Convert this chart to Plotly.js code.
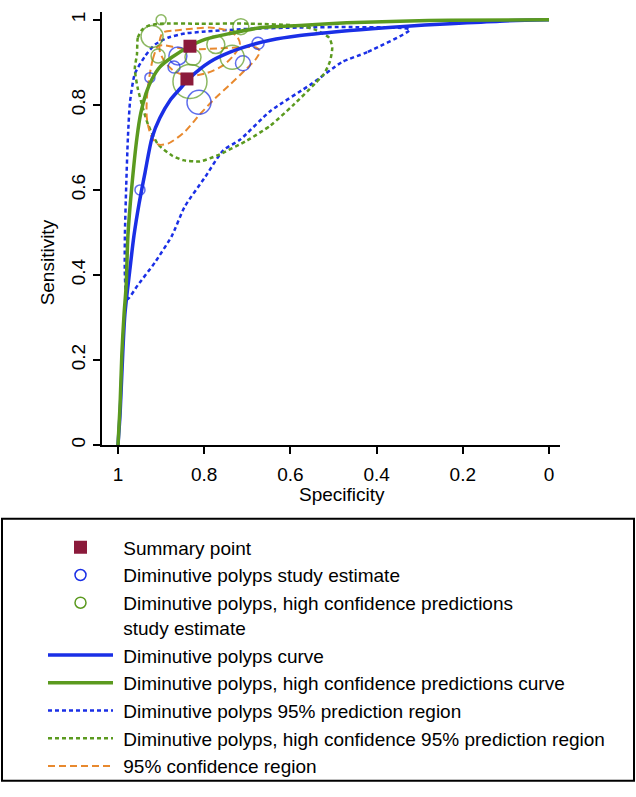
<!DOCTYPE html>
<html>
<head>
<meta charset="utf-8">
<script src="https://cdn.plot.ly/plotly-3.0.1.min.js"></script>
<style>
  html, body { margin: 0; padding: 0; background: #ffffff; }
  #chart { width: 636px; height: 797px; }
</style>
</head>
<body>
<div id="chart"></div>
<script>
// ---------- data (specificity, sensitivity) ----------
const summarySpec = [0.833, 0.840];
const summarySens = [0.938, 0.861];

const blueStudySpec = [0.926, 0.870, 0.861, 0.812, 0.675, 0.710, 0.949];
const blueStudySens = [0.864, 0.889, 0.915, 0.806, 0.945, 0.898, 0.600];
const blueStudySize = [10, 12, 18, 24, 12, 15, 10];

const greenStudySpec = [0.900, 0.921, 0.907, 0.826, 0.833, 0.773, 0.735, 0.715];
const greenStudySens = [1.000, 0.961, 0.915, 0.912, 0.855, 0.942, 0.912, 0.984];
const greenStudySize = [10, 22, 14, 16, 34, 18, 24, 16];

const blueCurveSpec = [1, 0.995, 0.991, 0.984, 0.972, 0.963, 0.951, 0.937, 0.921, 0.903, 0.879, 0.856, 0.833, 0.787, 0.740, 0.694, 0.647, 0.578, 0.462, 0.346, 0.230, 0.114, 0];
const blueCurveSens = [0, 0.076, 0.169, 0.307, 0.416, 0.492, 0.568, 0.642, 0.723, 0.769, 0.811, 0.838, 0.864, 0.901, 0.924, 0.940, 0.952, 0.963, 0.975, 0.984, 0.991, 0.997, 1];

const greenCurveSpec = [1, 0.995, 0.991, 0.986, 0.981, 0.977, 0.968, 0.956, 0.947, 0.935, 0.921, 0.903, 0.875, 0.833, 0.798, 0.740, 0.666, 0.578, 0.469, 0.346, 0.230, 0];
const greenCurveSens = [0, 0.099, 0.215, 0.307, 0.376, 0.492, 0.607, 0.723, 0.781, 0.827, 0.861, 0.889, 0.912, 0.938, 0.954, 0.968, 0.982, 0.987, 0.993, 0.997, 0.999, 1];

const bluePredSpec = [0.323, 0.422, 0.480, 0.550, 0.647, 0.717, 0.756, 0.798, 0.845, 0.875, 0.914, 0.954, 0.979, 0.984, 0.984, 0.981, 0.977, 0.972, 0.961, 0.937, 0.914, 0.884, 0.845, 0.805, 0.694, 0.578, 0.462, 0.323];
const bluePredSens = [0.977, 0.924, 0.901, 0.850, 0.785, 0.718, 0.693, 0.630, 0.561, 0.492, 0.430, 0.376, 0.342, 0.400, 0.492, 0.607, 0.723, 0.808, 0.873, 0.915, 0.942, 0.958, 0.968, 0.972, 0.979, 0.982, 0.983, 0.977];

const greenPredSpec = [0.944, 0.954, 0.956, 0.961, 0.954, 0.942, 0.930, 0.907, 0.875, 0.849, 0.810, 0.770, 0.701, 0.647, 0.594, 0.543, 0.522, 0.508, 0.503, 0.510, 0.543, 0.578, 0.694, 0.810, 0.903, 0.930, 0.944];
const greenPredSens = [0.977, 0.958, 0.919, 0.885, 0.838, 0.792, 0.753, 0.707, 0.681, 0.670, 0.667, 0.681, 0.716, 0.751, 0.799, 0.850, 0.873, 0.903, 0.935, 0.958, 0.977, 0.986, 0.991, 0.991, 0.991, 0.986, 0.977];

const confASpec = [0.896, 0.868, 0.828, 0.787, 0.747, 0.724, 0.717, 0.733, 0.759, 0.794, 0.833, 0.868, 0.891, 0.903, 0.903, 0.896];
const confASens = [0.970, 0.975, 0.979, 0.982, 0.975, 0.961, 0.942, 0.915, 0.891, 0.875, 0.868, 0.878, 0.901, 0.926, 0.952, 0.970];

const confBSpec = [0.907, 0.919, 0.928, 0.933, 0.933, 0.923, 0.907, 0.884, 0.845, 0.810, 0.775, 0.740, 0.705, 0.680, 0.671, 0.680, 0.717, 0.763, 0.810, 0.856, 0.891, 0.907];
const confBSens = [0.938, 0.908, 0.861, 0.815, 0.769, 0.727, 0.707, 0.709, 0.737, 0.778, 0.815, 0.848, 0.882, 0.908, 0.926, 0.935, 0.935, 0.933, 0.931, 0.933, 0.940, 0.938];

const tickVals = [1, 0.8, 0.6, 0.4, 0.2, 0];
const tickText = ['1', '0.8', '0.6', '0.4', '0.2', '0'];

const legendNames = {
  summary: 'Summary point',
  blueStudy: 'Diminutive polyps study estimate',
  greenStudy: 'Diminutive polyps, high confidence predictions<br>study estimate',
  blueCurve: 'Diminutive polyps curve',
  greenCurve: 'Diminutive polyps, high confidence predictions curve',
  bluePred: 'Diminutive polyps 95% prediction region',
  greenPred: 'Diminutive polyps, high confidence 95% prediction region',
  conf: '95% confidence region'
};

// ---------- styles ----------
const BLUE = '#1a2fe6';
const GREEN = '#5b9a1f';
const ORANGE = '#e8892e';
const RED = '#8b1a3b';
const pad = s => '\u00a0' + s.replace('<br>', '<br>\u00a0');

const traces = [
  { x: bluePredSpec, y: bluePredSens, mode: 'lines', name: pad(legendNames.bluePred),
    line: { color: BLUE, width: 2.5, dash: '4px,3px', shape: 'spline', smoothing: 0.6 }, legendrank: 6 },
  { x: greenPredSpec, y: greenPredSens, mode: 'lines', name: pad(legendNames.greenPred),
    line: { color: GREEN, width: 2.5, dash: '4px,3px', shape: 'spline', smoothing: 0.6 }, legendrank: 7 },
  { x: confASpec, y: confASens, mode: 'lines', name: pad(legendNames.conf), legendgroup: 'conf',
    line: { color: ORANGE, width: 2, dash: '7px,4px', shape: 'spline', smoothing: 0.8 }, legendrank: 8 },
  { x: confBSpec, y: confBSens, mode: 'lines', name: pad(legendNames.conf), legendgroup: 'conf', showlegend: false,
    line: { color: ORANGE, width: 2, dash: '7px,4px', shape: 'spline', smoothing: 0.8 } },
  { x: blueStudySpec, y: blueStudySens, mode: 'markers', showlegend: false,
    marker: { symbol: 'circle-open', size: blueStudySize, color: BLUE, line: { width: 1.5, color: BLUE } } },
  { x: greenStudySpec, y: greenStudySens, mode: 'markers', showlegend: false,
    marker: { symbol: 'circle-open', size: greenStudySize, color: GREEN, line: { width: 1.5, color: GREEN } } },
  { x: blueCurveSpec, y: blueCurveSens, mode: 'lines', name: pad(legendNames.blueCurve),
    line: { color: BLUE, width: 3.5, shape: 'spline', smoothing: 0.8 }, legendrank: 4 },
  { x: greenCurveSpec, y: greenCurveSens, mode: 'lines', name: pad(legendNames.greenCurve),
    line: { color: GREEN, width: 3.5, shape: 'spline', smoothing: 0.8 }, legendrank: 5 },
  { x: summarySpec, y: summarySens, mode: 'markers', name: pad(legendNames.summary),
    marker: { symbol: 'square', size: 13, color: RED }, legendrank: 1 },
  // legend proxies for the study estimates (no data drawn)
  { x: [null], y: [null], mode: 'markers', name: pad(legendNames.blueStudy),
    marker: { symbol: 'circle-open', size: 11, color: BLUE, line: { width: 1.5, color: BLUE } }, legendrank: 2 },
  { x: [null], y: [null], mode: 'markers', name: pad(legendNames.greenStudy),
    marker: { symbol: 'circle-open', size: 11, color: GREEN, line: { width: 1.5, color: GREEN } }, legendrank: 3 }
];

const W = 636, H = 797;
const L = 102, R = 76, T = 12, B = 344;
const pw = W - L - R, ph = H - T - B;
const px2x = p => (p - L) / pw;
const px2y = p => (H - B - p) / ph;

const layout = {
  width: W, height: H,
  margin: { l: L, r: R, t: T, b: B, pad: 0 },
  paper_bgcolor: '#ffffff', plot_bgcolor: '#ffffff',
  font: { family: 'Liberation Sans, Arial, sans-serif', color: '#000000', size: 19 },
  showlegend: true,
  hovermode: false,
  xaxis: {
    range: [1.0371, -0.0255], tickvals: tickVals, ticktext: tickText,
    showline: true, linecolor: '#000', linewidth: 2, ticks: 'outside', ticklen: 7, tickwidth: 2, tickcolor: '#000',
    showgrid: false, zeroline: false, tickfont: { size: 19 }, ticklabelstandoff: 4
  },
  yaxis: {
    range: [0, 1.0185], tickvals: tickVals, ticktext: tickText, tickangle: -90,
    showline: true, linecolor: '#000', linewidth: 2, ticks: 'outside', ticklen: 7, tickwidth: 2, tickcolor: '#000',
    showgrid: false, zeroline: false, tickfont: { size: 19 }
  },
  annotations: [
    { text: 'Specificity', xref: 'paper', yref: 'paper', x: px2x(342), y: px2y(503), xanchor: 'center', yanchor: 'middle',
      showarrow: false, font: { size: 19 } },
    { text: 'Sensitivity', xref: 'paper', yref: 'paper', x: px2x(47), y: px2y(267), xanchor: 'center', yanchor: 'middle',
      textangle: -90, showarrow: false, font: { size: 19 } }
  ],
  shapes: [
    { type: 'rect', xref: 'paper', yref: 'paper', x0: px2x(2), x1: px2x(634), y0: px2y(795), y1: px2y(528),
      line: { color: '#000', width: 2 }, fillcolor: 'rgba(0,0,0,0)' }
  ],
  legend: {
    x: px2x(43), xanchor: 'left', y: px2y(538), yanchor: 'top',
    font: { size: 19 }, itemwidth: 65, bgcolor: 'rgba(0,0,0,0)', borderwidth: 0,
    tracegroupgap: 0, valign: 'top', traceorder: 'normal'
  }
};

Plotly.newPlot('chart', traces, layout, { staticPlot: true, displayModeBar: false });
</script>
</body>
</html>
